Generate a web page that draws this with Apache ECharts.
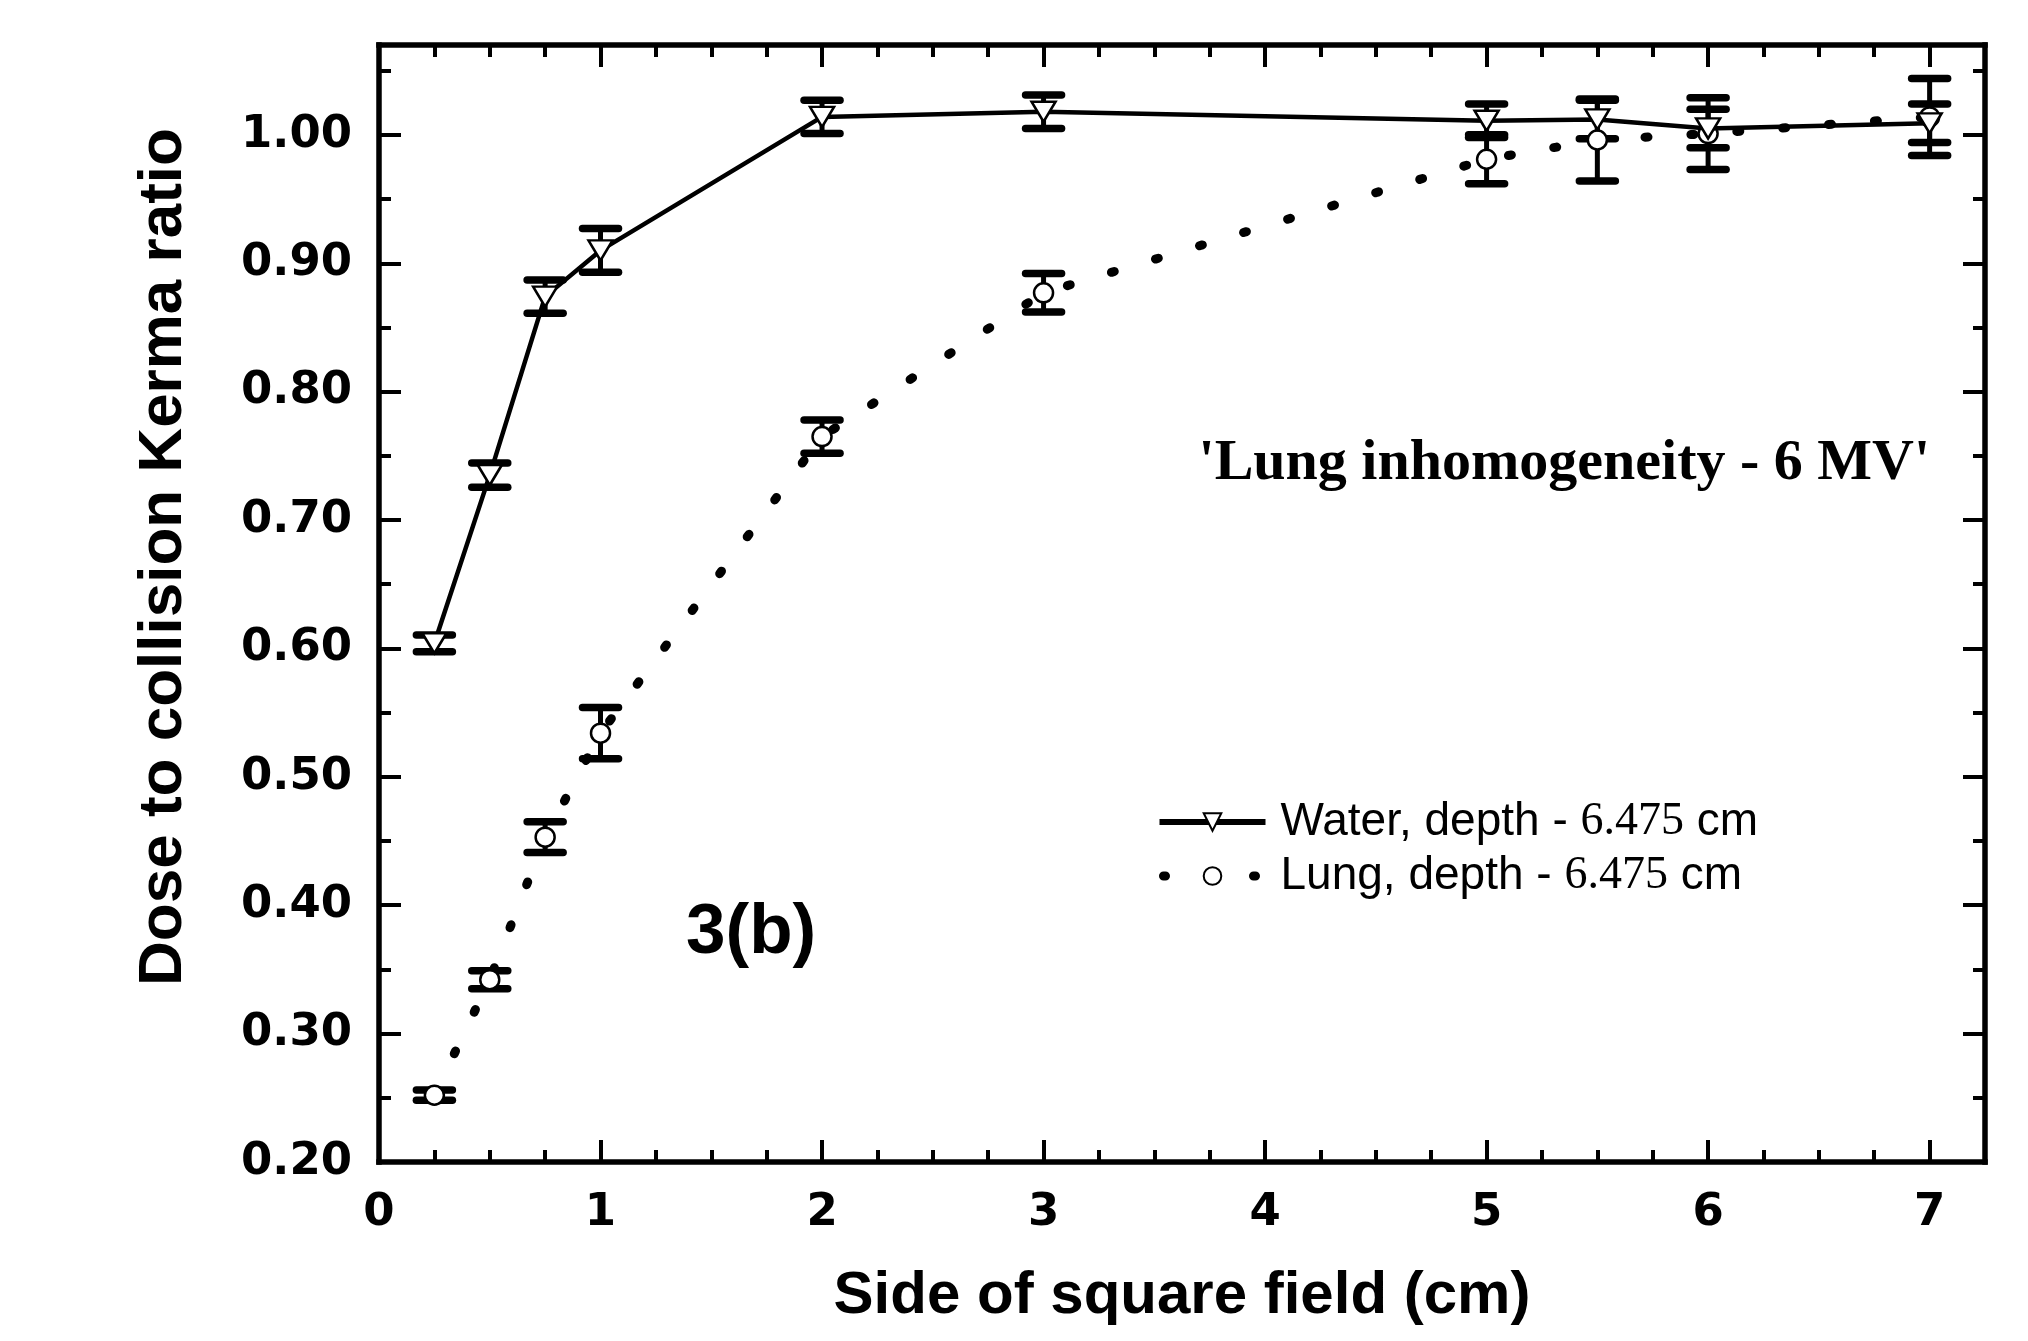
<!DOCTYPE html>
<html>
<head>
<meta charset="utf-8">
<script src="https://cdn.jsdelivr.net/npm/echarts@6/dist/echarts.min.js"></script>
<style>
html,body{margin:0;padding:0;background:#fff;}
#chart{width:2028px;height:1341px;}
</style>
</head>
<body>
<div id="chart"></div>
<script>
// ---- data ----
const fieldSize = [0.25, 0.5, 0.75, 1, 2, 3, 5, 5.5, 6, 7];
const waterRatio = [0.604, 0.735, 0.874, 0.910, 1.014, 1.018, 1.011, 1.012, 1.005, 1.009];
const waterErr   = [0.0065, 0.0095, 0.013, 0.017, 0.013, 0.013, 0.013, 0.015, 0.015, 0.015];
const lungRatio  = [0.252, 0.342, 0.453, 0.534, 0.765, 0.877, 0.981, 0.996, 1.001, 1.014];
const lungErr    = [0.004, 0.007, 0.012, 0.020, 0.013, 0.015, 0.019, 0.032, 0.028, 0.030];
const waterName = 'Water, depth - 6.475 cm';
const lungName  = 'Lung, depth - 6.475 cm';
const xTitle = 'Side of square field (cm)';
const yTitle = 'Dose to collision Kerma ratio';
const noteText = "'Lung inhomogeneity - 6 MV'";
const panelText = '3(b)';

const waterPts = fieldSize.map((x, i) => [x, waterRatio[i]]);
const lungPts  = fieldSize.map((x, i) => [x, lungRatio[i]]);
const waterBars = fieldSize.map((x, i) => [x, waterRatio[i] - waterErr[i], waterRatio[i] + waterErr[i]]);
const lungBars  = fieldSize.map((x, i) => [x, lungRatio[i] - lungErr[i], lungRatio[i] + lungErr[i]]);

function renderErr(params, api) {
  const x = api.value(0), lo = api.value(1), hi = api.value(2);
  const pTop = api.coord([x, hi]);
  const pBot = api.coord([x, lo]);
  const hw = 18;
  const capStyle = {stroke: '#000', lineWidth: 7.5, lineCap: 'round'};
  return {
    type: 'group',
    children: [
      {type: 'line', shape: {x1: pTop[0], y1: pTop[1], x2: pBot[0], y2: pBot[1]}, style: {stroke: '#000', lineWidth: 5}},
      {type: 'line', shape: {x1: pTop[0] - hw, y1: pTop[1], x2: pTop[0] + hw, y2: pTop[1]}, style: capStyle},
      {type: 'line', shape: {x1: pBot[0] - hw, y1: pBot[1], x2: pBot[0] + hw, y2: pBot[1]}, style: capStyle}
    ]
  };
}

const tickFont = {fontFamily: 'DejaVu Sans', fontWeight: 'bold', fontSize: 45, color: '#000'};
const axisLineStyle = {color: '#000', width: 5.5, cap: 'square'};
const tickStyle = {color: '#000', width: 4};

const chart = echarts.init(document.getElementById('chart'), null, {renderer: 'canvas'});
chart.setOption({
  animation: false,
  backgroundColor: '#fff',
  grid: {left: 379, right: 43, top: 45, bottom: 179, containLabel: false},
  xAxis: [
    {
      type: 'value', min: 0, max: 7.25, interval: 1, position: 'bottom',
      axisLine: {show: true, onZero: false, lineStyle: axisLineStyle},
      axisTick: {show: true, inside: true, length: 22, lineStyle: tickStyle},
      minorTick: {show: true, splitNumber: 4, length: 12, lineStyle: tickStyle},
      splitLine: {show: false},
      axisLabel: Object.assign({margin: 29, formatter: v => (Math.abs(v - Math.round(v)) < 1e-6 ? String(Math.round(v)) : '')}, tickFont),
      name: xTitle, nameLocation: 'middle', nameGap: 104,
      nameTextStyle: {fontFamily: 'Liberation Sans', fontWeight: 'bold', fontSize: 60, color: '#000'}
    },
    {
      type: 'value', min: 0, max: 7.25, interval: 1, position: 'top',
      axisLine: {show: true, onZero: false, lineStyle: axisLineStyle},
      axisTick: {show: true, inside: true, length: 22, lineStyle: tickStyle},
      minorTick: {show: true, splitNumber: 4, length: 12, lineStyle: tickStyle},
      splitLine: {show: false},
      axisLabel: {show: false}
    }
  ],
  yAxis: [
    {
      type: 'value', min: 0.2, max: 1.07, interval: 0.1, position: 'left',
      axisLine: {show: true, onZero: false, lineStyle: axisLineStyle},
      axisTick: {show: true, inside: true, length: 22, lineStyle: tickStyle},
      minorTick: {show: true, splitNumber: 2, length: 12, lineStyle: tickStyle},
      splitLine: {show: false},
      axisLabel: Object.assign({margin: 27, formatter: v => (Math.abs(v * 10 - Math.round(v * 10)) < 1e-6 ? v.toFixed(2) : '')}, tickFont)
    },
    {
      type: 'value', min: 0.2, max: 1.07, interval: 0.1, position: 'right',
      axisLine: {show: true, onZero: false, lineStyle: axisLineStyle},
      axisTick: {show: true, inside: true, length: 22, lineStyle: tickStyle},
      minorTick: {show: true, splitNumber: 2, length: 12, lineStyle: tickStyle},
      splitLine: {show: false},
      axisLabel: {show: false}
    }
  ],
  legend: {
    orient: 'vertical', left: 1150, top: 794,
    itemWidth: 106, itemHeight: 22, itemGap: 8,
    selectedMode: false,
    textStyle: {
      padding: [0, 0, 0, 10], color: '#000',
      rich: {
        s: {fontFamily: 'Liberation Sans', fontSize: 46, color: '#000'},
        n: {fontFamily: 'Liberation Serif', fontSize: 46, color: '#000'}
      }
    },
    formatter: name => {
      const parts = name.split('6.475');
      return '{s|' + parts[0] + '}{n|6.475}{s|' + parts[1] + '}';
    },
    data: [
      {name: waterName, lineStyle: {width: 6, color: '#000'}},
      {name: lungName, lineStyle: {width: 9, color: '#000', type: [2, 88], dashOffset: -4, cap: 'round'}}
    ]
  },
  series: [
    {
      type: 'custom', name: 'waterErr', renderItem: renderErr, data: waterBars,
      encode: {x: 0, y: [1, 2]}, z: 1, silent: true
    },
    {
      type: 'custom', name: 'lungErr', renderItem: renderErr, data: lungBars,
      encode: {x: 0, y: [1, 2]}, z: 1, silent: true
    },
    {
      type: 'line', name: lungName, data: lungPts, z: 3,
      symbol: 'circle', symbolSize: 19, showSymbol: true,
      lineStyle: {color: '#000', width: 9, type: [3, 43], cap: 'round'},
      itemStyle: {color: '#fff', borderColor: '#000', borderWidth: 2.5},
      emphasis: {disabled: true}
    },
    {
      type: 'line', name: waterName, data: waterPts, z: 4,
      symbol: 'triangle', symbolRotate: 180, symbolSize: [24, 20], showSymbol: true,
      lineStyle: {color: '#000', width: 4.5},
      itemStyle: {color: '#fff', borderColor: '#000', borderWidth: 2.5},
      emphasis: {disabled: true}
    }
  ],
  graphic: [
    {
      type: 'text', x: 164, y: 557, rotation: Math.PI / 2,
      style: {text: yTitle, fontFamily: 'Liberation Sans', fontWeight: 'bold', fontSize: 62, fill: '#000', align: 'center', verticalAlign: 'middle'}
    },
    {
      type: 'text', x: 1930, y: 464,
      style: {text: noteText, fontFamily: 'Liberation Serif', fontWeight: 'bold', fontSize: 58, fill: '#000', align: 'right', verticalAlign: 'middle'}
    },
    {
      type: 'text', x: 686, y: 933,
      style: {text: panelText, fontFamily: 'Liberation Sans', fontWeight: 'bold', fontSize: 71, fill: '#000', align: 'left', verticalAlign: 'middle'}
    }
  ]
});
</script>
</body>
</html>
